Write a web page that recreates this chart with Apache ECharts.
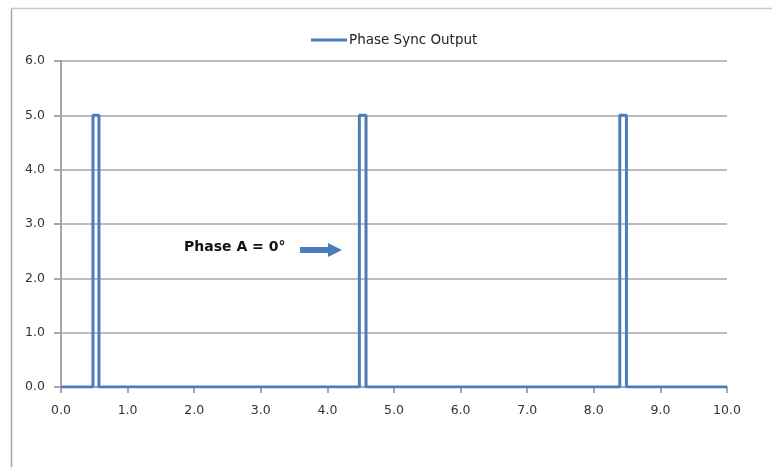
<!DOCTYPE html>
<html>
<head>
<meta charset="utf-8">
<script src="https://cdn.jsdelivr.net/npm/echarts@6/dist/echarts.min.js"></script>
<style>
  html, body { margin: 0; padding: 0; background: #fff; }
  #chart { width: 772px; height: 467px; }
</style>
</head>
<body>
<div id="chart"></div>
<script>
// pulse edges (x in same units as axis)
var pulseStarts = [0.48, 4.48, 8.39];
var pulseEnds = [0.57, 4.58, 8.49];
var lowLevel = 0;
var highLevel = 5;
var xRange = [0, 10];
var seriesName = "Phase Sync Output";
var noteText = "Phase A = 0°";

// build step points for the pulse train
var points = [[xRange[0], lowLevel]];
for (var i = 0; i < pulseStarts.length; i++) {
  points.push([pulseStarts[i], lowLevel]);
  points.push([pulseStarts[i], highLevel]);
  points.push([pulseEnds[i], highLevel]);
  points.push([pulseEnds[i], lowLevel]);
}
points.push([xRange[1], lowLevel]);

var chart = echarts.init(document.getElementById("chart"));
var labelFont = "DejaVu Sans";

chart.setOption({
  animation: false,
  color: ["#4a7ebb"],
  grid: { left: 61, right: 45, top: 61, bottom: 80 },
  legend: {
    top: 28,
    left: 306,
    itemWidth: 36,
    itemHeight: 3,
    icon: "rect",
    textStyle: { fontFamily: labelFont, fontSize: 13.5, color: "#222", padding: [0, 0, 0, -3] },
    data: [seriesName]
  },
  xAxis: {
    type: "value",
    min: 0,
    max: 10,
    interval: 1,
    axisLine: { lineStyle: { color: "#a6a6a6", width: 2 } },
    axisTick: { show: true, length: 6, lineStyle: { color: "#a6a6a6", width: 2 } },
    axisLabel: {
      fontFamily: labelFont,
      fontSize: 12.5,
      color: "#333",
      margin: 17,
      formatter: function (v) { return v.toFixed(1); }
    },
    splitLine: { show: false }
  },
  yAxis: {
    type: "value",
    min: 0,
    max: 6,
    interval: 1,
    axisLine: { show: true, lineStyle: { color: "#a6a6a6", width: 2 } },
    axisTick: { show: true, inside: false, length: 7, lineStyle: { color: "#a6a6a6", width: 2 } },
    axisLabel: {
      fontFamily: labelFont,
      fontSize: 12.5,
      color: "#333",
      margin: 16,
      formatter: function (v) { return v.toFixed(1); }
    },
    splitLine: { show: true, lineStyle: { color: "#a6a6a6", width: 1.5 } }
  },
  series: [{
    name: seriesName,
    type: "line",
    data: points,
    showSymbol: false,
    lineStyle: { width: 3, color: "#4a7ebb" },
    z: 3
  }],
  graphic: [
    { type: "line", shape: { x1: 11.5, y1: 8.5, x2: 772, y2: 8.5 }, style: { stroke: "#c8c8c8", lineWidth: 1.5 } },
    { type: "line", shape: { x1: 11.5, y1: 8.5, x2: 11.5, y2: 467 }, style: { stroke: "#a6a6a6", lineWidth: 1.5 } },
    {
      type: "text",
      left: 184,
      top: 240,
      style: { text: noteText, font: "bold 14px 'DejaVu Sans'", fill: "#111" }
    },
    {
      type: "polygon",
      shape: { points: [[300, 247], [328, 247], [328, 243], [342, 250], [328, 257], [328, 253], [300, 253]] },
      style: { fill: "#4a7ebb" }
    }
  ]
});
</script>
</body>
</html>
